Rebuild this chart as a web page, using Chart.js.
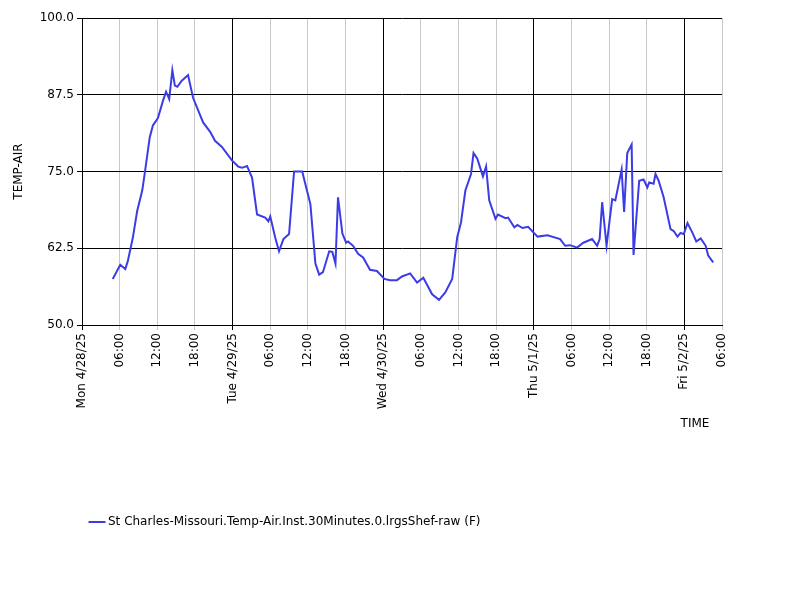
<!DOCTYPE html>
<html>
<head>
<meta charset="utf-8">
<script src="https://cdn.jsdelivr.net/npm/chart.js@4"></script>
<style>
  body { margin: 0; background: #fff; }
  #wrap { width: 800px; height: 600px; }
</style>
</head>
<body>
<div id="wrap"><canvas id="tempChart"></canvas></div>
<script>
// hours since Mon 4/28/25 00:00
const hours = [4.9, 6.1, 6.9, 7.3, 8.1, 8.8, 9.6, 10.0, 10.8, 11.3, 12.1, 12.9, 13.4, 13.9, 14.4, 14.8, 15.2, 15.9, 16.9, 17.7,
  18.5, 19.3, 20.4, 21.2, 22.3, 23.9, 24.9, 25.5, 26.3, 27.1, 27.9, 29.2, 29.7, 30.0, 30.8, 31.4, 32.1, 33.0, 33.8, 35.1,
  35.7, 36.4, 37.2, 37.8, 38.4, 39.4, 39.9, 40.4, 40.8, 41.5, 42.1, 42.4, 43.2, 44.0, 44.8, 45.9, 47.0, 48.2, 49.1, 50.2,
  51.0, 52.3, 53.4, 54.4, 55.8, 56.9, 57.9, 59.0, 59.8, 60.4, 61.1, 62.0, 62.4, 63.0, 63.9, 64.4, 64.9, 65.9, 66.3, 67.5,
  67.9, 68.9, 69.4, 70.2, 71.1, 72.6, 74.2, 76.2, 77.0, 77.8, 78.9, 79.9, 81.3, 82.1, 82.5, 82.9, 83.6, 84.5, 85.0, 86.0,
  86.4, 86.9, 87.6, 87.9, 88.8, 89.5, 90.1, 90.4, 91.1, 91.4, 91.9, 92.7, 93.8, 94.3, 94.9, 95.4, 95.9, 96.5, 97.3, 97.9,
  98.6, 99.4, 99.8, 100.6];
const temps = [57.5, 59.8, 59.1, 60.4, 64.2, 68.6, 71.9, 74.7, 80.6, 82.5, 83.7, 86.5, 88.0, 86.8, 91.5, 89.0, 88.8, 89.8, 90.7, 87.0,
  85.0, 83.0, 81.5, 80.0, 79.0, 76.8, 75.8, 75.6, 75.9, 74.0, 68.0, 67.5, 66.9, 67.7, 64.2, 62.0, 64.0, 64.8, 75.0, 75.0,
  72.5, 69.7, 60.0, 58.2, 58.6, 62.0, 61.9, 60.0, 70.8, 64.9, 63.4, 63.6, 62.9, 61.6, 61.0, 59.0, 58.8, 57.5, 57.3, 57.3,
  57.9, 58.4, 56.9, 57.7, 55.0, 54.1, 55.3, 57.5, 64.3, 66.7, 71.9, 74.6, 78.0, 77.1, 74.2, 75.8, 70.3, 67.3, 68.0, 67.4,
  67.5, 65.9, 66.3, 65.8, 66.0, 64.4, 64.6, 64.0, 62.9, 63.0, 62.6, 63.4, 64.0, 62.9, 64.0, 70.0, 62.9, 70.5, 70.3, 75.3,
  68.4, 78.0, 79.4, 61.4, 73.5, 73.7, 72.4, 73.2, 73.0, 74.6, 73.5, 70.8, 65.6, 65.3, 64.4, 65.0, 64.8, 66.6, 65.0, 63.6,
  64.1, 62.9, 61.3, 60.2];
const tickHours = [0, 6, 12, 18, 24, 30, 36, 42, 48, 54, 60, 66, 72, 78, 84, 90, 96, 102];
const tickLabels = ['Mon 4/28/25', '06:00', '12:00', '18:00', 'Tue 4/29/25', '06:00', '12:00', '18:00',
  'Wed 4/30/25', '06:00', '12:00', '18:00', 'Thu 5/1/25', '06:00', '12:00', '18:00', 'Fri 5/2/25', '06:00'];
const seriesLabel = 'St Charles-Missouri.Temp-Air.Inst.30Minutes.0.lrgsShef-raw (F)';

const timeTitle = {
    id: 'timeTitle',
    afterDraw(chart) {
        const ctx = chart.ctx;
        ctx.save();
        ctx.font = '12px "DejaVu Sans"';
        ctx.fillStyle = '#000';
        ctx.textAlign = 'center';
        ctx.textBaseline = 'middle';
        ctx.fillText('TIME', 695, 424);
        ctx.restore();
    }
};

Chart.defaults.font.family = '"DejaVu Sans", sans-serif';
Chart.defaults.font.size = 12;
Chart.defaults.color = '#000';

new Chart(document.getElementById('tempChart'), {
    type: 'line',
    data: {
        datasets: [{
            label: seriesLabel,
            data: hours.map((h, i) => ({ x: h, y: temps[i] })),
            borderColor: '#3c3ce6',
            backgroundColor: '#3c3ce6',
            borderWidth: 2,
            pointRadius: 0,
            tension: 0
        }]
    },
    options: {
        responsive: true,
        maintainAspectRatio: false,
        animation: false,
        layout: { padding: { top: 18, right: 78, left: 8, bottom: 62 } },
        plugins: {
            legend: {
                position: 'bottom',
                align: 'start',
                fullSize: false,
                labels: {
                    usePointStyle: true,
                    pointStyle: 'line',
                    boxWidth: 10,
                    padding: 10,
                    color: '#000'
                }
            },
            tooltip: { enabled: false }
        },
        scales: {
            x: {
                type: 'linear',
                min: 0,
                max: 102,
                afterBuildTicks(scale) {
                    scale.ticks = tickHours.map(v => ({ value: v }));
                },
                afterFit(scale) { scale.height = 181; },
                ticks: {
                    autoSkip: false,
                    maxRotation: 90,
                    minRotation: 90,
                    callback: (v, i) => tickLabels[i]
                },
                grid: {
                    color: ctx => (ctx.tick && ctx.tick.value % 24 === 0) ? '#000' : '#c8c8c8',
                    tickLength: 5
                },
                border: { color: '#000' }
            },
            y: {
                min: 50,
                max: 100,
                afterFit(scale) { scale.width = 74; },
                ticks: {
                    stepSize: 12.5,
                    callback: v => v.toFixed(1)
                },
                title: { display: true, text: 'TEMP-AIR', color: '#000' },
                grid: { color: '#000', tickLength: 5 },
                border: { color: '#000' }
            }
        }
    },
    plugins: [timeTitle]
});
</script>
</body>
</html>
